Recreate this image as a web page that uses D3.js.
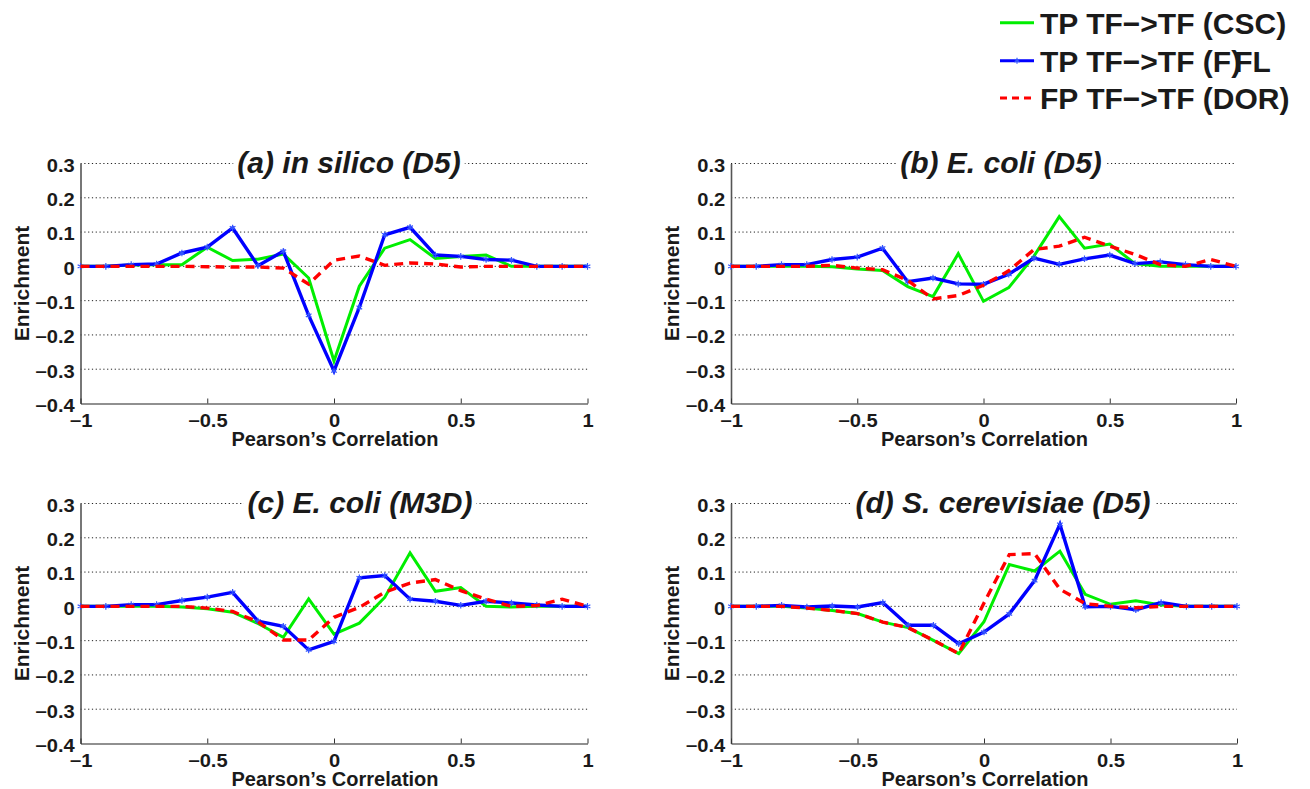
<!DOCTYPE html>
<html>
<head>
<meta charset="utf-8">
<script src="https://cdn.jsdelivr.net/npm/d3@7"></script>
<style>
  html, body { margin: 0; padding: 0; background: #fff; }
  svg { display: block; font-family: "Liberation Sans", Arial, Helvetica, sans-serif; }
</style>
</head>
<body>
<svg id="chart" width="1310" height="789"></svg>
<script>
// ---------------- DATA ----------------
const corr = [-1, -0.9, -0.8, -0.7, -0.6, -0.5, -0.4, -0.3, -0.2, -0.1, 0, 0.1, 0.2, 0.3, 0.4, 0.5, 0.6, 0.7, 0.8, 0.9, 1];

const seriesNames = ["TP TF\u2212>TF (CSC)", "TP TF\u2212>TF (FFL)", "FP TF\u2212>TF (DOR)"];
const panelTitles = ["(a) in silico (D5)", "(b) E. coli (D5)", "(c) E. coli (M3D)", "(d) S. cerevisiae (D5)"];

// (a) in silico (D5)
const cscA = [0, 0, 0.004, 0.005, 0.005, 0.056, 0.017, 0.021, 0.036, -0.034, -0.276, -0.058, 0.053, 0.078, 0.023, 0.029, 0.033, 0, 0, 0, 0];
const fflA = [0, 0, 0.005, 0.007, 0.039, 0.056, 0.112, 0.002, 0.044, -0.143, -0.305, -0.12, 0.092, 0.114, 0.033, 0.029, 0.02, 0.018, 0, 0, 0];
const dorA = [0, 0, 0, 0, 0, -0.001, -0.002, -0.002, -0.005, -0.052, 0.018, 0.03, 0.003, 0.01, 0.007, -0.002, 0, 0, 0, 0, 0];

// (b) E. coli (D5)
const cscB = [0, 0, 0, 0, -0.001, -0.008, -0.012, -0.059, -0.088, 0.037, -0.102, -0.062, 0.03, 0.145, 0.053, 0.065, 0.008, 0, 0, 0, 0];
const fflB = [0, 0, 0.005, 0.005, 0.02, 0.027, 0.053, -0.045, -0.034, -0.051, -0.052, -0.023, 0.024, 0.006, 0.022, 0.033, 0.008, 0.013, 0.005, 0, 0];
const dorB = [0, 0, 0, 0, 0.003, -0.005, -0.01, -0.041, -0.095, -0.085, -0.055, -0.013, 0.049, 0.059, 0.085, 0.059, 0.035, 0.005, 0, 0.02, 0];

// (c) E. coli (M3D)
const cscC = [0, 0, 0, 0, -0.002, -0.007, -0.017, -0.05, -0.09, 0.022, -0.081, -0.049, 0.026, 0.156, 0.044, 0.055, 0, -0.002, 0, 0, 0];
const fflC = [0, 0, 0.005, 0.005, 0.017, 0.027, 0.041, -0.043, -0.058, -0.127, -0.102, 0.083, 0.09, 0.021, 0.015, 0.003, 0.015, 0.01, 0.004, 0, 0];
const dorC = [0, 0, 0, 0, 0, -0.005, -0.015, -0.045, -0.098, -0.098, -0.032, -0.003, 0.041, 0.068, 0.078, 0.046, 0.021, 0, 0.002, 0.021, 0];

// (d) S. cerevisiae (D5)
const cscD = [0, 0, 0, -0.005, -0.012, -0.021, -0.046, -0.062, -0.099, -0.138, -0.045, 0.122, 0.103, 0.161, 0.035, 0.006, 0.016, 0.004, 0, 0, 0];
const fflD = [0, 0, 0.003, -0.002, 0.001, -0.002, 0.011, -0.055, -0.055, -0.109, -0.075, -0.022, 0.075, 0.239, -0.001, 0, -0.01, 0.011, 0, 0, 0];
const dorD = [0, 0, 0, -0.005, -0.012, -0.021, -0.046, -0.062, -0.099, -0.138, 0.01, 0.151, 0.154, 0.05, 0.008, 0, -0.004, 0, 0, 0, 0];

const panelData = [[cscA, fflA, dorA], [cscB, fflB, dorB], [cscC, fflC, dorC], [cscD, fflD, dorD]];

const yTicks = [0.3, 0.2, 0.1, 0, -0.1, -0.2, -0.3, -0.4];
const xTicks = [-1, -0.5, 0, 0.5, 1];
const xLabel = "Pearson\u2019s Correlation";
const yLabel = "Enrichment";

// ---------------- LAYOUT ----------------
const panels = [
  { x0: 80.5, x1: 587.5, y0: 163.5, y1: 403.5, titleX: 349 },
  { x0: 731,  x1: 1236,  y0: 163.5, y1: 403.5, titleX: 1001 },
  { x0: 80.5, x1: 587.5, y0: 503.5, y1: 743.5, titleX: 360 },
  { x0: 731,  x1: 1237,  y0: 503.5, y1: 743.5, titleX: 1003 }
];
const colors = ["#00ee00", "#0000ff", "#ff0000"];
const widths = [3, 3.4, 3.4];
const dashes = [null, null, "9,6"];
const tickStretch = 1.15;

const fmt = v => (v < 0 ? "\u2212" : "") + String(Math.abs(Math.round(v * 10) / 10));

const svg = d3.select("#chart");

panels.forEach((p, pi) => {
  const x = d3.scaleLinear().domain([-1, 1]).range([p.x0, p.x1]);
  const y = d3.scaleLinear().domain([-0.4, 0.3]).range([p.y1, p.y0]);
  const g = svg.append("g");

  // gridlines
  g.selectAll("line.grid").data(yTicks.filter(t => t > -0.4)).enter().append("line")
    .attr("x1", p.x0).attr("x2", p.x1)
    .attr("y1", d => y(d)).attr("y2", d => y(d))
    .attr("stroke", "#222").attr("stroke-width", 1).attr("stroke-dasharray", "1.2,2.6");

  // title with white background
  const title = g.append("text")
    .attr("x", p.titleX).attr("y", p.y0 + 9)
    .attr("text-anchor", "middle")
    .attr("font-size", 30).attr("font-weight", "bold").attr("font-style", "italic")
    .attr("fill", "#1a1a1a")
    .text(panelTitles[pi]);
  const bb = title.node().getBBox();
  g.insert("rect", "text").attr("x", bb.x - 4).attr("y", bb.y).attr("width", bb.width + 8).attr("height", bb.height).attr("fill", "#fff");

  // y axis (left line + labels)
  const yAxis = d3.axisLeft(y).tickValues(yTicks).tickSize(0).tickPadding(5).tickFormat(fmt);
  const ya = g.append("g").attr("transform", `translate(${p.x0},0)`).call(yAxis);
  ya.select(".domain").attr("stroke", "#555").attr("stroke-width", 1.6);
  ya.selectAll("text").attr("font-size", 17.5).attr("font-weight", "bold").attr("fill", "#1a1a1a")
    .attr("font-family", "Liberation Sans, Arial, sans-serif")
    .attr("dy", "0.45em")
    .attr("transform", `scale(${tickStretch},1)`);

  // x axis (bottom line + inward ticks)
  const xAxis = d3.axisBottom(x).tickValues(xTicks).tickSizeInner(-5).tickSizeOuter(0).tickPadding(11).tickFormat(fmt);
  const xa = g.append("g").attr("transform", `translate(0,${p.y1})`).call(xAxis);
  xa.select(".domain").attr("stroke", "#222").attr("stroke-width", 1.2);
  xa.selectAll(".tick line").attr("stroke", "#333");
  xa.selectAll("text").attr("font-size", 17.5).attr("font-weight", "bold").attr("fill", "#1a1a1a")
    .attr("font-family", "Liberation Sans, Arial, sans-serif")
    .attr("transform", `scale(${tickStretch},1)`);

  // axis labels
  g.append("text")
    .attr("transform", `translate(${p.x0 - 52},${(p.y0 + p.y1) / 2}) rotate(-90)`)
    .attr("text-anchor", "middle")
    .attr("font-size", 21).attr("font-weight", "bold").attr("fill", "#1a1a1a")
    .text(yLabel);
  g.append("text")
    .attr("x", (p.x0 + p.x1) / 2 + 1).attr("y", p.y1 + 42)
    .attr("text-anchor", "middle")
    .attr("font-size", 20).attr("font-weight", "bold").attr("fill", "#1a1a1a")
    .text(xLabel);

  // lines
  const line = d3.line().x((d, i) => x(corr[i])).y(d => y(d));
  panelData[pi].forEach((vals, si) => {
    g.append("path").datum(vals)
      .attr("d", line)
      .attr("fill", "none")
      .attr("stroke", colors[si])
      .attr("stroke-width", widths[si])
      .attr("stroke-linejoin", "miter")
      .attr("stroke-dasharray", dashes[si]);
    if (si === 1) {
      const sym = d3.symbol().type(d3.symbolAsterisk || d3.symbolCross).size(30);
      g.selectAll(null).data(vals).enter().append("path")
        .attr("d", sym)
        .attr("transform", (d, i) => `translate(${x(corr[i])},${y(d)})`)
        .attr("fill", "none")
        .attr("stroke", "#3355ff")
        .attr("stroke-width", 1.2);
    }
  });
});

// ---------------- LEGEND ----------------
const legend = svg.append("g");
const legRows = [22.7, 60.7, 98];
seriesNames.forEach((name, i) => {
  const ly = legRows[i];
  legend.append("line")
    .attr("x1", 1000).attr("x2", 1034).attr("y1", ly).attr("y2", ly)
    .attr("stroke", colors[i]).attr("stroke-width", 3)
    .attr("stroke-dasharray", i === 2 ? "7,5" : null);
  if (i === 1) {
    legend.append("path")
      .attr("d", d3.symbol().type(d3.symbolAsterisk || d3.symbolCross).size(24))
      .attr("transform", `translate(1017,${ly})`)
      .attr("fill", "none").attr("stroke", "#3355ff").attr("stroke-width", 1.2);
  }
  const t = legend.append("text")
    .attr("x", 1040).attr("y", ly + 11)
    .attr("font-size", 30).attr("font-weight", "bold").attr("fill", "#1a1a1a");
  if (i === 1) {
    // reproduce the overlapping parenthesis of the original legend
    t.append("tspan").text(name.slice(0, name.indexOf("(") + 2));
    t.append("tspan").text(")");
    t.append("tspan").attr("dx", -7).text(name.slice(name.indexOf("(") + 2, name.length - 1));
  } else {
    t.text(name);
  }
});
</script>
</body>
</html>
